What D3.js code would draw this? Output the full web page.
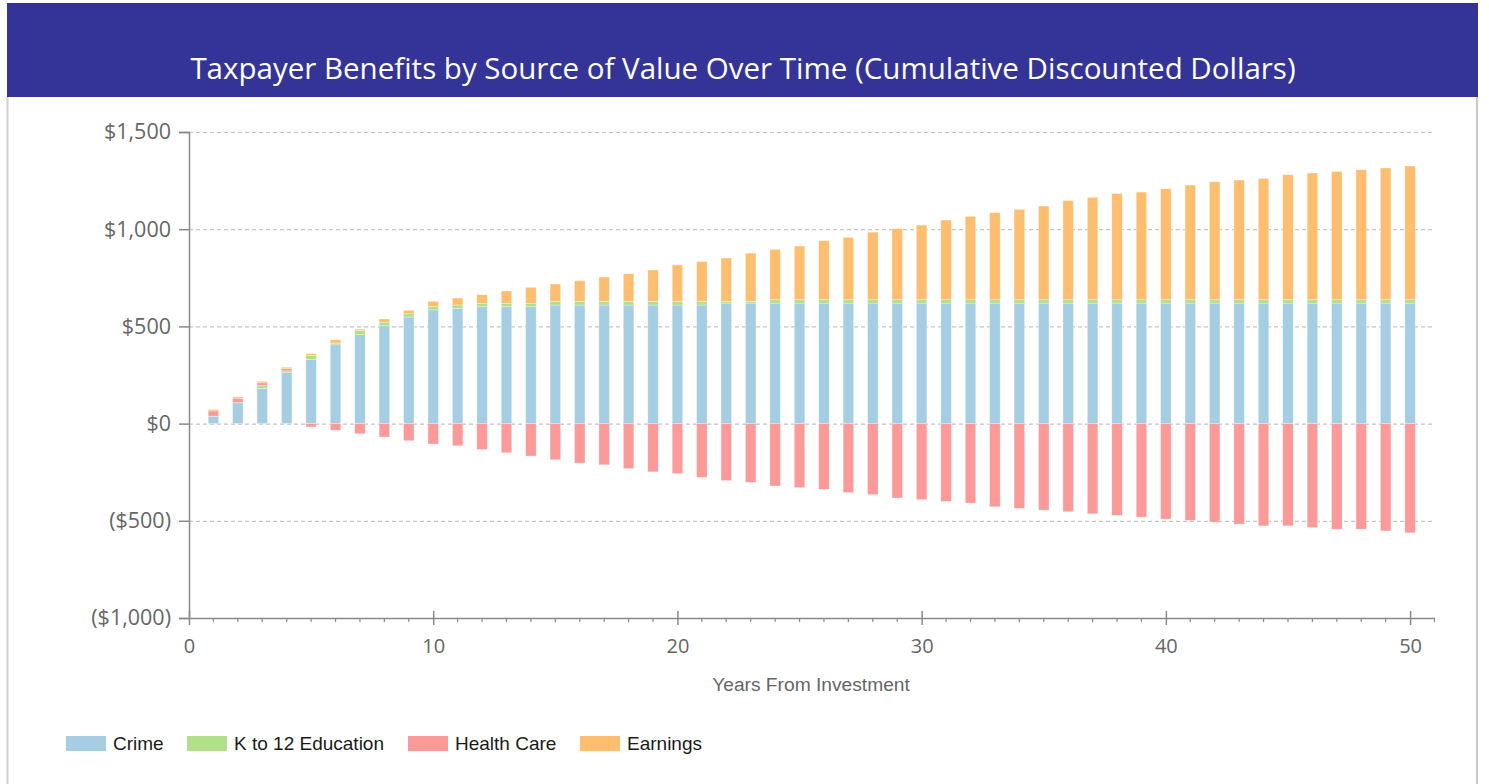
<!DOCTYPE html>
<html>
<head>
<meta charset="utf-8">
<script src="https://cdn.jsdelivr.net/npm/d3@7/dist/d3.min.js"></script>
<style>
  html, body { margin: 0; padding: 0; background: #fff; }
  svg { display: block; }
</style>
</head>
<body>
<svg id="chart" width="1489" height="784"></svg>
<script>
const years = d3.range(1, 51);
const crime = [38,107,181,262,331,405,457,503,548,585,592,601,601,601,610,610,610,610,610,610,610,620,620,620,620,620,620,620,620,620,620,620,620,620,620,620,620,620,620,620,620,620,620,620,620,620,620,620,620,620];
const k12 = [0,1,15,9,19,9,21,19,17,17,18,18,18,18,18,18,18,18,18,18,18,9,9,17,17,17,17,17,17,17,17,17,17,17,17,17,17,17,17,17,17,17,17,17,17,17,17,17,17,17];
const health = [27,21,14,12,-17,-34,-52,-69,-88,-105,-114,-133,-150,-167,-186,-203,-212,-231,-248,-257,-276,-293,-302,-321,-329,-338,-355,-365,-383,-391,-400,-409,-428,-436,-445,-453,-464,-472,-481,-491,-498,-507,-517,-526,-526,-534,-543,-543,-552,-562];
const earnings = [7,8,7,7,10,17,8,16,18,27,36,44,63,82,90,107,126,143,162,188,205,223,248,259,276,304,321,348,366,384,410,429,448,465,482,510,527,546,554,571,590,607,616,624,643,652,660,669,678,688];
const seriesKeys = ["crime", "k12", "health", "earnings"];
const seriesNames = ["Crime", "K to 12 Education", "Health Care", "Earnings"];
const colors = ["#a6cee3", "#b2df8a", "#fb9a99", "#fdbf6f"];
const yTicks = [-1000, -500, 0, 500, 1000, 1500];
const xTicks = [0, 10, 20, 30, 40, 50];
const title = "Taxpayer Benefits by Source of Value Over Time (Cumulative Discounted Dollars)";
const xTitle = "Years From Investment";

const table = years.map((yr, i) => ({year: yr, crime: crime[i], k12: k12[i], health: health[i], earnings: earnings[i]}));

const svg = d3.select("#chart");
const W = 1489, H = 784;

// card frame
svg.append("rect").attr("x", 7).attr("y", 3).attr("width", 1471).attr("height", 94).attr("fill", "#343398");
svg.append("line").attr("x1", 7.5).attr("x2", 7.5).attr("y1", 97).attr("y2", H).attr("stroke", "#d0d0d0").attr("stroke-width", 2);
svg.append("line").attr("x1", 1477).attr("x2", 1477).attr("y1", 97).attr("y2", H).attr("stroke", "#c8c8c8").attr("stroke-width", 2);

svg.append("text").attr("x", 743).attr("y", 79).attr("text-anchor", "middle")
  .attr("fill", "#ffffff").attr("font-family", "'Open Sans', 'Noto Sans', sans-serif")
  .attr("font-size", 29.5).text(title);

const x = d3.scaleLinear().domain([0, 51]).range([189, 1434.5]);
const y = d3.scaleLinear().domain([-1000, 1500]).range([618, 132]);

// gridlines
svg.append("g").selectAll("line").data(yTicks.filter(d => d > -1000)).join("line")
  .attr("x1", x(0)).attr("x2", x(51)).attr("y1", d => y(d) + 0.5).attr("y2", d => y(d) + 0.5)
  .attr("stroke", "#c4c4c4").attr("stroke-width", 1.2).attr("stroke-dasharray", "4,3");

// bars
const stack = d3.stack().keys(seriesKeys).offset(d3.stackOffsetDiverging);
const stacked = stack(table);
const bw = (x(1) - x(0)) * 0.43;
svg.append("g").selectAll("g").data(stacked).join("g")
  .attr("fill", (d, i) => colors[i])
  .selectAll("rect").data(d => d).join("rect")
  .attr("x", d => x(d.data.year) - bw / 2)
  .attr("width", bw)
  .attr("y", d => y(Math.max(d[0], d[1])))
  .attr("height", d => Math.abs(y(d[0]) - y(d[1])))
  .attr("stroke", "#ffffff").attr("stroke-opacity", 0.5).attr("stroke-width", 0.6);

// y axis
const yAxis = svg.append("g").attr("transform", `translate(${x(0)},0)`)
  .call(d3.axisLeft(y).tickValues(yTicks).tickSize(10).tickPadding(8)
    .tickFormat(d => d < 0 ? "($" + d3.format(",")(-d) + ")" : "$" + d3.format(",")(d)));
yAxis.select(".domain").attr("stroke", "#8a8a8a").attr("stroke-width", 1.5);
yAxis.selectAll(".tick line").attr("stroke", "#8a8a8a").attr("stroke-width", 1.5);
yAxis.selectAll(".tick text").attr("fill", "#666").attr("font-family", "'Open Sans', sans-serif").attr("font-size", 21.5);

// x axis
const xAxis = svg.append("g").attr("transform", `translate(0,${y(-1000)})`)
  .call(d3.axisBottom(x).tickValues(xTicks).tickSize(7).tickPadding(14).tickSizeOuter(0));
xAxis.select(".domain").attr("stroke", "#8a8a8a").attr("stroke-width", 1.5);
xAxis.selectAll(".tick line").attr("stroke", "#8a8a8a").attr("stroke-width", 1.5).attr("y1", -7);
xAxis.selectAll(".tick text").attr("fill", "#666").attr("font-family", "'Open Sans', sans-serif").attr("font-size", 20);
// minor ticks
svg.append("g").selectAll("line").data(years.filter(d => d % 10 !== 0).concat([51])).join("line")
  .attr("x1", d => x(d)).attr("x2", d => x(d)).attr("y1", y(-1000)).attr("y2", y(-1000) + 4)
  .attr("stroke", "#8a8a8a").attr("stroke-width", 1.2);

svg.append("text").attr("x", 811).attr("y", 691).attr("text-anchor", "middle")
  .attr("fill", "#666").attr("font-family", "'Liberation Sans', Arial, sans-serif").attr("font-size", 19.2)
  .text(xTitle);

// legend
const legendX = [66, 187, 408, 580];
const lg = svg.append("g").selectAll("g").data(seriesNames).join("g")
  .attr("transform", (d, i) => `translate(${legendX[i]},736)`);
lg.append("rect").attr("width", 40).attr("height", 15).attr("fill", (d, i) => colors[i]);
lg.append("text").attr("x", 47).attr("y", 14).attr("fill", "#1a1a1a")
  .attr("font-family", "'Liberation Sans', Arial, sans-serif").attr("font-size", 19).text(d => d);
</script>
</body>
</html>
